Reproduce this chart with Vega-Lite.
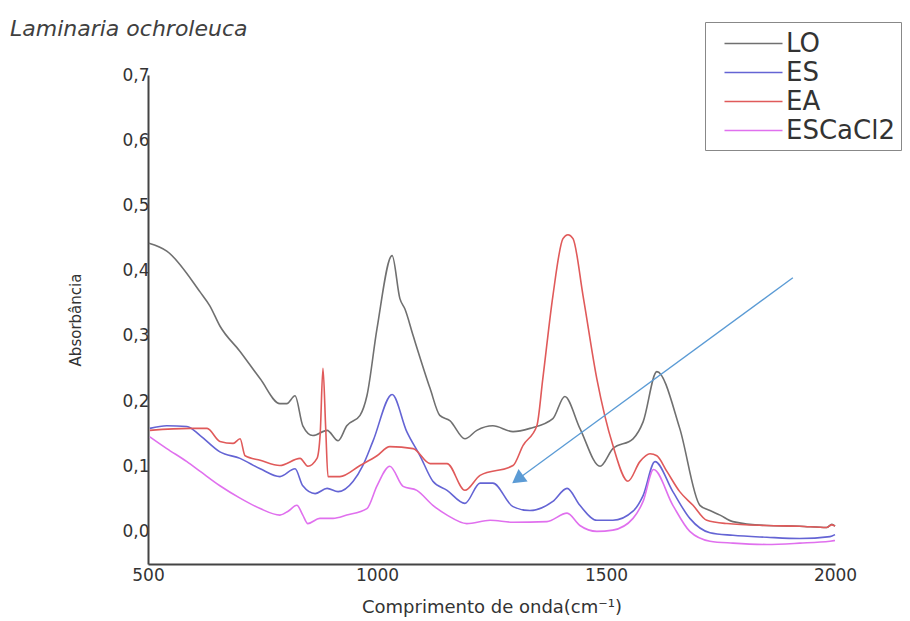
{
  "$schema": "https://vega.github.io/schema/vega-lite/v6.json",
  "width": 687,
  "height": 489,
  "autosize": {"type": "none"},
  "padding": {"left": 148, "top": 75, "right": 75, "bottom": 57},
  "background": "white",
  "title": {
    "text": "Laminaria ochroleuca",
    "anchor": "start",
    "frame": "group",
    "dx": -138,
    "offset": -19,
    "font": "DejaVu Sans",
    "fontSize": 22,
    "fontStyle": "italic",
    "fontWeight": "normal",
    "color": "#404040"
  },
  "config": {
    "view": {"stroke": null},
    "axis": {"grid": false, "ticks": false, "labelFlush": false, "domainColor": "#444444", "domainWidth": 2, "labelFont": "DejaVu Sans", "labelColor": "#333333", "titleFont": "DejaVu Sans", "titleColor": "#333333", "titleFontWeight": "normal"}
  },
  "datasets": {
    "spectra": [
      {"series": "LO", "wn": 502, "abs": 0.442},
      {"series": "LO", "wn": 541, "abs": 0.430},
      {"series": "LO", "wn": 614, "abs": 0.367},
      {"series": "LO", "wn": 635, "abs": 0.346},
      {"series": "LO", "wn": 657, "abs": 0.315},
      {"series": "LO", "wn": 701, "abs": 0.276},
      {"series": "LO", "wn": 745, "abs": 0.234},
      {"series": "LO", "wn": 788, "abs": 0.196},
      {"series": "LO", "wn": 803, "abs": 0.196},
      {"series": "LO", "wn": 821, "abs": 0.208},
      {"series": "LO", "wn": 838, "abs": 0.162},
      {"series": "LO", "wn": 860, "abs": 0.147},
      {"series": "LO", "wn": 891, "abs": 0.155},
      {"series": "LO", "wn": 915, "abs": 0.139},
      {"series": "LO", "wn": 934, "abs": 0.162},
      {"series": "LO", "wn": 963, "abs": 0.178},
      {"series": "LO", "wn": 978, "abs": 0.208},
      {"series": "LO", "wn": 1000, "abs": 0.311},
      {"series": "LO", "wn": 1033, "abs": 0.423},
      {"series": "LO", "wn": 1050, "abs": 0.357},
      {"series": "LO", "wn": 1061, "abs": 0.341},
      {"series": "LO", "wn": 1079, "abs": 0.300},
      {"series": "LO", "wn": 1116, "abs": 0.219},
      {"series": "LO", "wn": 1137, "abs": 0.178},
      {"series": "LO", "wn": 1159, "abs": 0.170},
      {"series": "LO", "wn": 1192, "abs": 0.142},
      {"series": "LO", "wn": 1218, "abs": 0.155},
      {"series": "LO", "wn": 1253, "abs": 0.162},
      {"series": "LO", "wn": 1297, "abs": 0.153},
      {"series": "LO", "wn": 1334, "abs": 0.158},
      {"series": "LO", "wn": 1384, "abs": 0.173},
      {"series": "LO", "wn": 1410, "abs": 0.207},
      {"series": "LO", "wn": 1443, "abs": 0.158},
      {"series": "LO", "wn": 1487, "abs": 0.100},
      {"series": "LO", "wn": 1515, "abs": 0.127},
      {"series": "LO", "wn": 1559, "abs": 0.142},
      {"series": "LO", "wn": 1581, "abs": 0.168},
      {"series": "LO", "wn": 1611, "abs": 0.245},
      {"series": "LO", "wn": 1661, "abs": 0.158},
      {"series": "LO", "wn": 1705, "abs": 0.040},
      {"series": "LO", "wn": 1727, "abs": 0.032},
      {"series": "LO", "wn": 1749, "abs": 0.025},
      {"series": "LO", "wn": 1777, "abs": 0.015},
      {"series": "LO", "wn": 1851, "abs": 0.009},
      {"series": "LO", "wn": 1923, "abs": 0.008},
      {"series": "LO", "wn": 1982, "abs": 0.006},
      {"series": "LO", "wn": 1993, "abs": 0.011},
      {"series": "LO", "wn": 2000, "abs": 0.008},

      {"series": "ES", "wn": 504, "abs": 0.158},
      {"series": "ES", "wn": 541, "abs": 0.162},
      {"series": "ES", "wn": 585, "abs": 0.161},
      {"series": "ES", "wn": 614, "abs": 0.147},
      {"series": "ES", "wn": 657, "abs": 0.122},
      {"series": "ES", "wn": 701, "abs": 0.112},
      {"series": "ES", "wn": 745, "abs": 0.096},
      {"series": "ES", "wn": 788, "abs": 0.084},
      {"series": "ES", "wn": 821, "abs": 0.096},
      {"series": "ES", "wn": 838, "abs": 0.070},
      {"series": "ES", "wn": 865, "abs": 0.058},
      {"series": "ES", "wn": 891, "abs": 0.066},
      {"series": "ES", "wn": 915, "abs": 0.061},
      {"series": "ES", "wn": 948, "abs": 0.077},
      {"series": "ES", "wn": 969, "abs": 0.101},
      {"series": "ES", "wn": 991, "abs": 0.138},
      {"series": "ES", "wn": 1033, "abs": 0.210},
      {"series": "ES", "wn": 1065, "abs": 0.153},
      {"series": "ES", "wn": 1094, "abs": 0.116},
      {"series": "ES", "wn": 1122, "abs": 0.077},
      {"series": "ES", "wn": 1153, "abs": 0.063},
      {"series": "ES", "wn": 1192, "abs": 0.043},
      {"series": "ES", "wn": 1225, "abs": 0.074},
      {"series": "ES", "wn": 1253, "abs": 0.074},
      {"series": "ES", "wn": 1297, "abs": 0.038},
      {"series": "ES", "wn": 1334, "abs": 0.032},
      {"series": "ES", "wn": 1384, "abs": 0.046},
      {"series": "ES", "wn": 1415, "abs": 0.066},
      {"series": "ES", "wn": 1443, "abs": 0.040},
      {"series": "ES", "wn": 1480, "abs": 0.017},
      {"series": "ES", "wn": 1515, "abs": 0.017},
      {"series": "ES", "wn": 1559, "abs": 0.031},
      {"series": "ES", "wn": 1581, "abs": 0.055},
      {"series": "ES", "wn": 1607, "abs": 0.107},
      {"series": "ES", "wn": 1646, "abs": 0.061},
      {"series": "ES", "wn": 1683, "abs": 0.020},
      {"series": "ES", "wn": 1727, "abs": -0.002},
      {"series": "ES", "wn": 1777, "abs": -0.006},
      {"series": "ES", "wn": 1851, "abs": -0.009},
      {"series": "ES", "wn": 1923, "abs": -0.011},
      {"series": "ES", "wn": 1989, "abs": -0.008},
      {"series": "ES", "wn": 2000, "abs": -0.005},

      {"series": "EA", "wn": 504, "abs": 0.155},
      {"series": "EA", "wn": 592, "abs": 0.158},
      {"series": "EA", "wn": 629, "abs": 0.158},
      {"series": "EA", "wn": 657, "abs": 0.138},
      {"series": "EA", "wn": 686, "abs": 0.135},
      {"series": "EA", "wn": 701, "abs": 0.142},
      {"series": "EA", "wn": 712, "abs": 0.116},
      {"series": "EA", "wn": 745, "abs": 0.109},
      {"series": "EA", "wn": 788, "abs": 0.101},
      {"series": "EA", "wn": 832, "abs": 0.112},
      {"series": "EA", "wn": 849, "abs": 0.100},
      {"series": "EA", "wn": 869, "abs": 0.112},
      {"series": "EA", "wn": 876, "abs": 0.150},
      {"series": "EA", "wn": 882, "abs": 0.250},
      {"series": "EA", "wn": 888, "abs": 0.158},
      {"series": "EA", "wn": 893, "abs": 0.084},
      {"series": "EA", "wn": 919, "abs": 0.084},
      {"series": "EA", "wn": 963, "abs": 0.101},
      {"series": "EA", "wn": 1000, "abs": 0.116},
      {"series": "EA", "wn": 1028, "abs": 0.130},
      {"series": "EA", "wn": 1079, "abs": 0.127},
      {"series": "EA", "wn": 1116, "abs": 0.104},
      {"series": "EA", "wn": 1153, "abs": 0.104},
      {"series": "EA", "wn": 1192, "abs": 0.063},
      {"series": "EA", "wn": 1225, "abs": 0.086},
      {"series": "EA", "wn": 1297, "abs": 0.101},
      {"series": "EA", "wn": 1319, "abs": 0.132},
      {"series": "EA", "wn": 1349, "abs": 0.162},
      {"series": "EA", "wn": 1362, "abs": 0.234},
      {"series": "EA", "wn": 1384, "abs": 0.361},
      {"series": "EA", "wn": 1406, "abs": 0.449},
      {"series": "EA", "wn": 1417, "abs": 0.455},
      {"series": "EA", "wn": 1428, "abs": 0.449},
      {"series": "EA", "wn": 1450, "abs": 0.361},
      {"series": "EA", "wn": 1480, "abs": 0.234},
      {"series": "EA", "wn": 1515, "abs": 0.132},
      {"series": "EA", "wn": 1548, "abs": 0.077},
      {"series": "EA", "wn": 1574, "abs": 0.107},
      {"series": "EA", "wn": 1596, "abs": 0.119},
      {"series": "EA", "wn": 1611, "abs": 0.116},
      {"series": "EA", "wn": 1633, "abs": 0.092},
      {"series": "EA", "wn": 1661, "abs": 0.061},
      {"series": "EA", "wn": 1690, "abs": 0.040},
      {"series": "EA", "wn": 1720, "abs": 0.017},
      {"series": "EA", "wn": 1764, "abs": 0.012},
      {"series": "EA", "wn": 1851, "abs": 0.009},
      {"series": "EA", "wn": 1923, "abs": 0.008},
      {"series": "EA", "wn": 1982, "abs": 0.006},
      {"series": "EA", "wn": 1993, "abs": 0.010},
      {"series": "EA", "wn": 2000, "abs": 0.008},

      {"series": "ESCaCl2", "wn": 504, "abs": 0.145},
      {"series": "ESCaCl2", "wn": 541, "abs": 0.127},
      {"series": "ESCaCl2", "wn": 585, "abs": 0.107},
      {"series": "ESCaCl2", "wn": 614, "abs": 0.092},
      {"series": "ESCaCl2", "wn": 657, "abs": 0.070},
      {"series": "ESCaCl2", "wn": 701, "abs": 0.051},
      {"series": "ESCaCl2", "wn": 745, "abs": 0.035},
      {"series": "ESCaCl2", "wn": 788, "abs": 0.025},
      {"series": "ESCaCl2", "wn": 806, "abs": 0.031},
      {"series": "ESCaCl2", "wn": 825, "abs": 0.040},
      {"series": "ESCaCl2", "wn": 838, "abs": 0.025},
      {"series": "ESCaCl2", "wn": 849, "abs": 0.012},
      {"series": "ESCaCl2", "wn": 875, "abs": 0.020},
      {"series": "ESCaCl2", "wn": 904, "abs": 0.020},
      {"series": "ESCaCl2", "wn": 934, "abs": 0.025},
      {"series": "ESCaCl2", "wn": 978, "abs": 0.035},
      {"series": "ESCaCl2", "wn": 1000, "abs": 0.070},
      {"series": "ESCaCl2", "wn": 1028, "abs": 0.100},
      {"series": "ESCaCl2", "wn": 1057, "abs": 0.069},
      {"series": "ESCaCl2", "wn": 1087, "abs": 0.063},
      {"series": "ESCaCl2", "wn": 1122, "abs": 0.040},
      {"series": "ESCaCl2", "wn": 1153, "abs": 0.025},
      {"series": "ESCaCl2", "wn": 1196, "abs": 0.012},
      {"series": "ESCaCl2", "wn": 1247, "abs": 0.017},
      {"series": "ESCaCl2", "wn": 1297, "abs": 0.014},
      {"series": "ESCaCl2", "wn": 1371, "abs": 0.015},
      {"series": "ESCaCl2", "wn": 1415, "abs": 0.028},
      {"series": "ESCaCl2", "wn": 1443, "abs": 0.009},
      {"series": "ESCaCl2", "wn": 1480, "abs": 0.000},
      {"series": "ESCaCl2", "wn": 1515, "abs": 0.002},
      {"series": "ESCaCl2", "wn": 1559, "abs": 0.020},
      {"series": "ESCaCl2", "wn": 1581, "abs": 0.046},
      {"series": "ESCaCl2", "wn": 1604, "abs": 0.095},
      {"series": "ESCaCl2", "wn": 1646, "abs": 0.040},
      {"series": "ESCaCl2", "wn": 1683, "abs": 0.000},
      {"series": "ESCaCl2", "wn": 1727, "abs": -0.015},
      {"series": "ESCaCl2", "wn": 1777, "abs": -0.018},
      {"series": "ESCaCl2", "wn": 1851, "abs": -0.020},
      {"series": "ESCaCl2", "wn": 1923, "abs": -0.018},
      {"series": "ESCaCl2", "wn": 1989, "abs": -0.015},
      {"series": "ESCaCl2", "wn": 2000, "abs": -0.014}
    ],
    "arrow": [
      {"wn": 1908, "abs": 0.389, "part": "tail"},
      {"wn": 1311, "abs": 0.082, "part": "head"}
    ]
  },
  "layer": [
    {
      "data": {"name": "spectra"},
      "mark": {"type": "line", "strokeWidth": 1.6, "interpolate": "monotone"},
      "encoding": {
        "x": {
          "field": "wn", "type": "quantitative",
          "scale": {"domain": [500, 2000], "nice": false, "zero": false},
          "axis": {"values": [500, 1000, 1500, 2000], "format": "d", "labelFontSize": 17, "labelPadding": 3, "title": "Comprimento de onda(cm⁻¹)", "titleFontSize": 18, "titlePadding": 15}
        },
        "y": {
          "field": "abs", "type": "quantitative",
          "scale": {"domain": [-0.05, 0.7], "nice": false, "zero": false},
          "axis": {"values": [0, 0.1, 0.2, 0.3, 0.4, 0.5, 0.6, 0.7], "labelExpr": "replace(format(datum.value, '.1f'), '.', ',')", "labelFontSize": 17, "labelPadding": -1, "title": "Absorbância", "titleFontSize": 15, "titlePadding": 38}
        },
        "color": {
          "field": "series", "type": "nominal",
          "scale": {"domain": ["LO", "ES", "EA", "ESCaCl2"], "range": ["#707070", "#6464d4", "#e05a5a", "#e070ee"]},
          "legend": {
            "orient": "none", "legendX": 557, "legendY": -53, "title": null,
            "symbolType": "M-2,0H2", "symbolSize": 841, "symbolStrokeWidth": 1.6, "symbolOffset": 27,
            "labelFont": "DejaVu Sans", "labelFontSize": 26, "labelColor": "#333333", "labelOffset": 17,
            "rowPadding": -3, "padding": 6, "strokeColor": "#888888", "fillColor": "white"
          }
        }
      }
    },
    {
      "data": {"name": "arrow"},
      "mark": {"type": "line", "color": "#5b9bd5", "strokeWidth": 1.3},
      "encoding": {
        "x": {"field": "wn", "type": "quantitative"},
        "y": {"field": "abs", "type": "quantitative"}
      }
    },
    {
      "data": {"name": "arrow"},
      "transform": [{"filter": "datum.part === 'head'"}],
      "mark": {"type": "point", "shape": "triangle", "angle": 234, "filled": true, "opacity": 1, "color": "#5b9bd5", "size": 240},
      "encoding": {
        "x": {"field": "wn", "type": "quantitative"},
        "y": {"field": "abs", "type": "quantitative"}
      }
    }
  ]
}
